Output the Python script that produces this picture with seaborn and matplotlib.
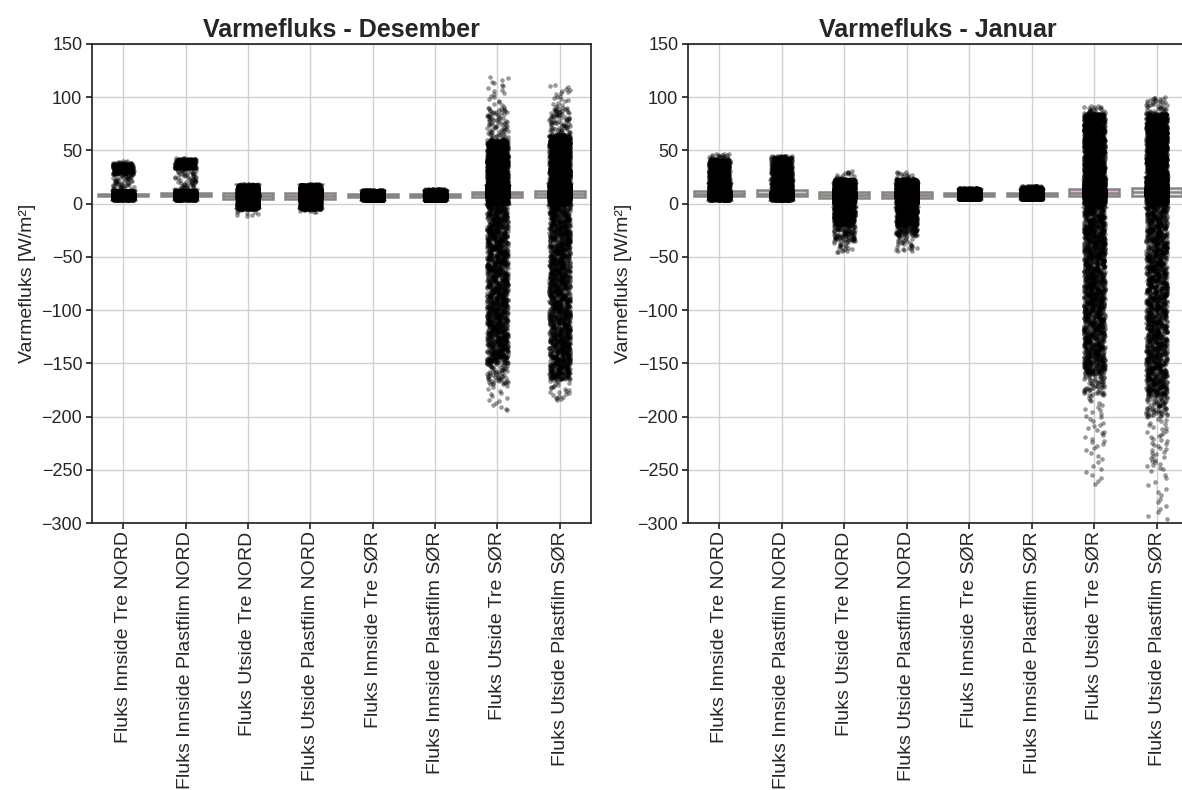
import numpy as np
import pandas as pd
import matplotlib
matplotlib.use("Agg")
import matplotlib.pyplot as plt
import seaborn as sns

categories = [
    "Fluks Innside Tre NORD",
    "Fluks Innside Plastfilm NORD",
    "Fluks Utside Tre NORD",
    "Fluks Utside Plastfilm NORD",
    "Fluks Innside Tre SØR",
    "Fluks Innside Plastfilm SØR",
    "Fluks Utside Tre SØR",
    "Fluks Utside Plastfilm SØR",
]
months = ["Desember", "Januar"]
yticks = [-300, -250, -200, -150, -100, -50, 0, 50, 100, 150]

# Value histograms: (low W/m², high W/m², number of readings)
# --- Desember ---
des_innside_tre_nord = [(3, 5, 100), (5, 7, 700), (7, 9.5, 1500), (9.5, 12, 450),
                        (12, 28, 60), (28, 38, 250), (38, 40, 8)]
des_innside_plast_nord = [(3, 5, 100), (5, 7, 700), (7, 9.5, 1500), (9.5, 12, 450),
                          (12, 33, 70), (33, 42, 280), (42, 43, 5)]
des_utside_tre_nord = [(-12, -5, 10), (-5, 0, 350), (0, 5, 450), (5, 10, 1500),
                       (10, 15, 650), (15, 17.5, 150), (17.5, 19, 10)]
des_utside_plast_nord = [(-8, -5, 8), (-5, 0, 350), (0, 5, 450), (5, 10, 1500),
                         (10, 15, 650), (15, 18, 160), (18, 19, 8)]
des_innside_tre_sor = [(3, 5, 300), (5, 6.5, 500), (6.5, 9, 1600), (9, 12, 700), (12, 13, 40)]
des_innside_plast_sor = [(3, 5, 300), (5, 6.5, 500), (6.5, 9, 1600), (9, 12.5, 750), (12.5, 14, 40)]
des_utside_tre_sor = [(-195, -170, 15), (-170, -150, 60), (-150, -100, 500), (-100, -50, 500),
                      (-50, 0, 500), (0, 6.5, 425), (6.5, 11, 4000), (11, 18, 900),
                      (18, 60, 1000), (60, 90, 80), (90, 120, 20)]
des_utside_plast_sor = [(-185, -165, 25), (-165, -100, 650), (-100, -50, 500), (-50, 0, 500),
                        (0, 6.5, 325), (6.5, 11.5, 4000), (11.5, 18, 900), (18, 65, 1000),
                        (65, 90, 80), (90, 112, 20)]
# --- Januar ---
jan_innside_tre_nord = [(3, 5, 120), (5, 7, 730), (7, 11, 1700), (11, 20, 400),
                        (20, 35, 350), (35, 42, 150), (42, 47, 20)]
jan_innside_plast_nord = [(3, 5, 120), (5, 7, 730), (7, 11, 1700), (11, 20, 400),
                          (20, 43, 550), (43, 45, 30)]
jan_utside_tre_nord = [(-46, -35, 20), (-35, -20, 100), (-20, 0, 450), (0, 6, 400),
                       (6, 11, 1800), (11, 18, 600), (18, 23, 300), (23, 31, 15)]
jan_utside_plast_nord = [(-45, -30, 30), (-30, -20, 90), (-20, 0, 450), (0, 6, 400),
                         (6, 11, 1800), (11, 18, 600), (18, 23, 300), (23, 30, 15)]
jan_innside_tre_sor = [(4, 6, 300), (6, 7.5, 500), (7.5, 10, 1600), (10, 14, 700), (14, 15, 30)]
jan_innside_plast_sor = [(4, 6, 300), (6, 7.5, 500), (7.5, 10, 1600), (10, 15, 720), (15, 17, 40)]
jan_utside_tre_sor = [(-265, -230, 12), (-230, -180, 30), (-180, -160, 60), (-160, -100, 550),
                      (-100, -50, 500), (-50, 0, 550), (0, 7, 298), (7, 13.5, 4000),
                      (13.5, 23, 700), (23, 85, 1280), (85, 92, 20)]
jan_utside_plast_sor = [(-298, -250, 15), (-250, -200, 40), (-200, -180, 70), (-180, -100, 700),
                        (-100, -50, 450), (-50, 0, 450), (0, 7.5, 275), (7.5, 14.5, 4000),
                        (14.5, 25, 700), (25, 85, 1260), (85, 100, 40)]

des_hists = [des_innside_tre_nord, des_innside_plast_nord, des_utside_tre_nord,
             des_utside_plast_nord, des_innside_tre_sor, des_innside_plast_sor,
             des_utside_tre_sor, des_utside_plast_sor]
jan_hists = [jan_innside_tre_nord, jan_innside_plast_nord, jan_utside_tre_nord,
             jan_utside_plast_nord, jan_innside_tre_sor, jan_innside_plast_sor,
             jan_utside_tre_sor, jan_utside_plast_sor]

box_colors = ["#cfcfcf", "#cfcfcf", "#b7d3b2", "#d9b5b5",
              "#cfcfcf", "#cfcfcf", "#e8b2dc", "#e8e8e8"]


def expand(hist):
    """Spread each histogram bin's readings evenly over the bin."""
    parts = []
    for lo, hi, n in hist:
        step = (hi - lo) / n
        parts.append(lo + step * (np.arange(n) + 0.5))
    return np.concatenate(parts)


def frame(hists):
    rows = []
    for cat, h in zip(categories, hists):
        v = expand(h)
        rows.append(pd.DataFrame({"Kategori": cat, "Varmefluks": v}))
    return pd.concat(rows, ignore_index=True)


sns.set_theme(style="ticks", rc={"axes.grid": True})
plt.rcParams["font.family"] = ["Liberation Sans", "DejaVu Sans"]

fig = plt.figure(figsize=(11.82, 7.9), dpi=100)
ax1 = fig.add_axes([92 / 1182, 1 - 523 / 790, 499 / 1182, 479 / 790])
ax2 = fig.add_axes([688 / 1182, 1 - 523 / 790, 500 / 1182, 479 / 790])

for ax, month, hists in zip([ax1, ax2], months, [des_hists, jan_hists]):
    df = frame(hists)
    sns.boxplot(data=df, x="Kategori", y="Varmefluks", hue="Kategori", order=categories,
                hue_order=categories, palette=box_colors, saturation=1, legend=False,
                showfliers=False, linecolor="#858585", linewidth=1.8, width=0.8, ax=ax)
    sns.stripplot(data=df, x="Kategori", y="Varmefluks", order=categories, color="black",
                  alpha=0.4, size=3.3, jitter=0.17, linewidth=0, ax=ax, zorder=3)
    ax.set_ylim(-300, 150)
    ax.set_yticks(yticks)
    ax.set_xlabel("")
    ax.set_ylabel("Varmefluks [W/m²]", fontsize=14, labelpad=4)
    ax.set_title(f"Varmefluks - {month}", fontsize=18, fontweight="bold", pad=5)
    ax.tick_params(axis="x", labelrotation=90, labelsize=14, length=4, pad=2)
    ax.tick_params(axis="y", labelsize=13, length=4, pad=3)
    ax.grid(True, color="#d0d0d0", linewidth=1)

fig.savefig("out.png", dpi=100)
